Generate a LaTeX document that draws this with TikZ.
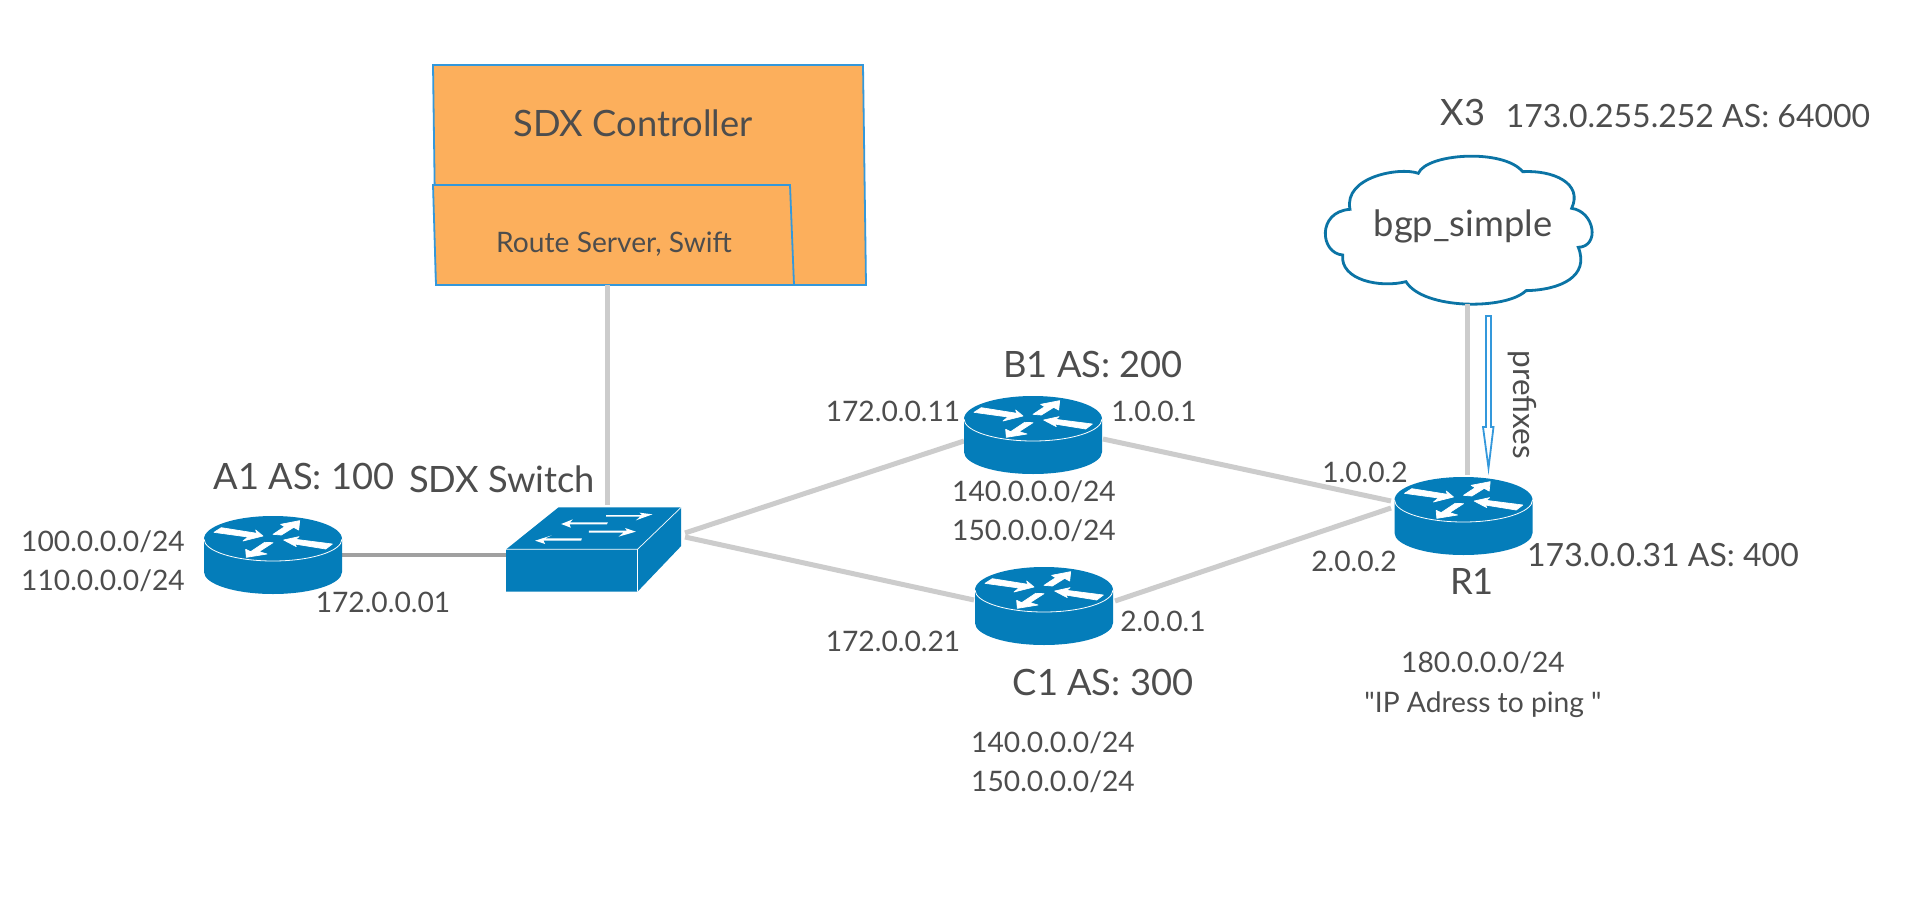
\documentclass[tikz,border=0pt]{standalone}
\usepackage{fontspec}
\setmainfont{Lato}
\newfontfamily\rawlato{Lato}
\definecolor{txt}{HTML}{4D4D4D}
\definecolor{netblue}{HTML}{047DBA}
\definecolor{cloudblue}{HTML}{0B74A5}
\definecolor{edgeblue}{HTML}{3498DB}
\definecolor{boxorange}{HTML}{FCAF5C}
\definecolor{lightlink}{HTML}{CCCCCC}
\definecolor{darklink}{HTML}{A0A0A0}
\tikzset{
  x=1pt,y=-1pt,
  lab/.style={text=txt,inner sep=0pt,font=\fontsize{#1}{#1}\selectfont,text height=22.8pt,text depth=2pt},
  lab/.default=28.2,
  biglab/.style={lab=36.3,text height=32.8pt},
  midlab/.style={lab=32,text height=25.8pt},
  routerbox/.style={rectangle,inner sep=0pt,minimum width=138pt,minimum height=78pt},
  switchbox/.style={rectangle,inner sep=0pt,minimum width=175pt,minimum height=85pt},
  lightwire/.style={draw=lightlink,line width=5pt},
  darkwire/.style={draw=darklink,line width=4pt,line cap=round},
  panel/.style={draw=edgeblue,fill=boxorange,line width=1.8pt},
  glyph/.style={fill=white,draw=white,line width=.7pt,line join=round},
  routerpic/.pic={
    \fill[netblue] (-69,-16) arc[start angle=180,end angle=360,x radius=69,y radius=23]
      -- (69,17) arc[start angle=0,end angle=180,x radius=69,y radius=22] -- cycle;
    \draw[white,line width=.8pt] (-69,-16) arc[start angle=180,end angle=0,x radius=69,y radius=22];
    \begin{scope}[x=.3333pt,y=-.3333pt,shift={(-280,-225)}]
      \path[glyph] (103,157)--(125,143)--(232,160)--(228,150)--(250,168)--(190,183)--(205,171)--cycle;
      \path[glyph] (280,163)--(315,140)--(303,133)--(360,122)--(357,150)--(342,142)--(305,165)--cycle;
      \path[glyph] (458,192)--(438,207)--(345,192)--(350,200)--(312,180)--(358,170)--(348,178)--cycle;
      \path[glyph] (280,188)--(238,215)--(262,222)--(200,232)--(198,208)--(213,215)--(255,187)--cycle;
    \end{scope}
  },
  switchpic/.pic={
    \begin{scope}[x=.3333pt,y=-.3333pt,shift={(-1240,-208.5)}]
      \fill[netblue] (978,208)--(1135,82)--(1503,82)--(1503,198)--(1372,335)--(978,335)--cycle;
      \draw[white,line width=.7pt] (978,208)--(1372,208)--(1503,82) (1372,208)--(1372,335);
      \fill[white] (1278,105)--(1385,105)--(1378,98)--(1417,103)--(1367,121)--(1380,110)--(1278,110)--cycle;
      \fill[white] (1283,127)--(1170,127)--(1178,118)--(1143,132)--(1172,143)--(1168,133)--(1280,133)--cycle;
      \fill[white] (1226,152)--(1340,152)--(1335,144)--(1367,155)--(1315,170)--(1330,158)--(1226,158)--cycle;
      \fill[white] (1205,175)--(1095,175)--(1115,166)--(1065,182)--(1095,192)--(1090,182)--(1203,182)--cycle;
    \end{scope}
  }
}
\begin{document}
\begin{tikzpicture}
\useasboundingbox[fill=white] (0,0) rectangle (1907,899);

% controller panels
\draw[panel] (433,65)--(863,65)--(866,285)--(436,285)--cycle;
\draw[panel] (433,185)--(790,185)--(794,285)--(436,285)--cycle;
\coordinate (ctrlfoot) at (607,285);
\node[biglab] (ctrl) at (633,121.5) {SDX Controller};
\node[lab] (rs) at (614,242) {Route Server, Swift};

% devices
\node[routerbox] (A1) at (273,555) {};
\node[routerbox] (B1) at (1033,435) {};
\node[routerbox] (C1) at (1044,606) {};
\node[routerbox] (R1) at (1463.5,516) {};
\node[switchbox] (sw) at (593.5,549.5) {};
\coordinate (swtop) at (607,505);

% cloud
\draw[cloudblue,line width=2.8pt,fill=white,shift={(1300,140)},x=.3333pt,y=-.3333pt]
  (355,100) .. controls (380,40) and (610,25) .. (668,95)
  .. controls (760,90) and (850,130) .. (815,205)
  .. controls (885,215) and (900,320) .. (835,322)
  .. controls (870,410) and (780,450) .. (678,452)
  .. controls (620,510) and (370,510) .. (318,425)
  .. controls (240,445) and (120,420) .. (128,345)
  .. controls (60,340) and (50,215) .. (150,208)
  .. controls (130,110) and (300,80) .. (355,100) -- cycle;
\node[biglab] (cloud) at (1463,221) {bgp\_simple};
\coordinate (cloudfoot) at (1467,304);
\coordinate (R1top) at (1467,475);

% links
\draw[darkwire] (A1.east) -- (A1.east -| sw.west);
\draw[lightwire] (ctrlfoot) -- (swtop);
\coordinate (swB) at (685,533);
\coordinate (swC) at (685,537);
\coordinate (BL) at (964,441);
\coordinate (BR) at (1103,439);
\coordinate (CL) at (974,600);
\coordinate (CR) at (1115,601);
\coordinate (RB) at (1391,501);
\coordinate (RC) at (1391,508);
\draw[lightwire] (swB) -- (BL);
\draw[lightwire] (swC) -- (CL);
\draw[lightwire] (BR) -- (RB);
\draw[lightwire] (CR) -- (RC);
\draw[lightwire] (cloudfoot) -- (R1top);

% device art
\pic at (A1) {routerpic};
\pic at (B1) {routerpic};
\pic at (C1) {routerpic};
\pic at (R1) {routerpic};
\pic at (sw) {switchpic};

% prefixes arrow
\draw[edgeblue,line width=1.8pt,fill=white] (1486,316)--(1491,316)--(1491,427)--(1493.5,427)--(1488.5,468)--(1483,427)--(1486,427)--cycle;
\node[lab=31.5,rotate=-90] (pfx) at (1523.5,405) {prefixes};

% labels
\node[biglab] (a1l) at (304,474) {A1 AS: 100};
\node[biglab] (swl) at (502,477) {SDX Switch};
\node[lab] (a1n1) at (103,541) {100.0.0.0/24};
\node[lab] (a1n2) at (103,580) {110.0.0.0/24};
\node[lab] (a1ip) at (383,602) {172.0.0.01};
\node[biglab] (b1l) at (1093,362) {B1 AS: 200};
\node[lab] (b1ip) at (893,411) {172.0.0.11};
\node[lab] (b1r) at (1154,411) {1.0.0.1};
\node[lab] (b1n1) at (1034,491) {140.0.0.0/24};
\node[lab] (b1n2) at (1034,530) {150.0.0.0/24};
\node[lab] (c1ip) at (893,641) {172.0.0.21};
\node[lab] (c1r) at (1163,621) {2.0.0.1};
\node[biglab] (c1l) at (1103,680.5) {C1 AS: 300};
\node[lab] (c1n1) at (1053,742) {140.0.0.0/24};
\node[lab] (c1n2) at (1053,781) {150.0.0.0/24};
\node[lab] (r1a) at (1365,472) {1.0.0.2};
\node[lab] (r1b) at (1354,561) {2.0.0.2};
\node[biglab] (r1l) at (1472,579) {R1};
\node[midlab] (r1ip) at (1663,555) {173.0.0.31 AS: 400};
\node[lab] (r1n) at (1483,662) {180.0.0.0/24};
\node[lab] (r1q) at (1483,702) {\rawlato "IP Adress to ping "};
\node[biglab] (x3) at (1463,110) {X3};
\node[midlab] (x3ip) at (1688,116) {173.0.255.252 AS: 64000};
\end{tikzpicture}
\end{document}
